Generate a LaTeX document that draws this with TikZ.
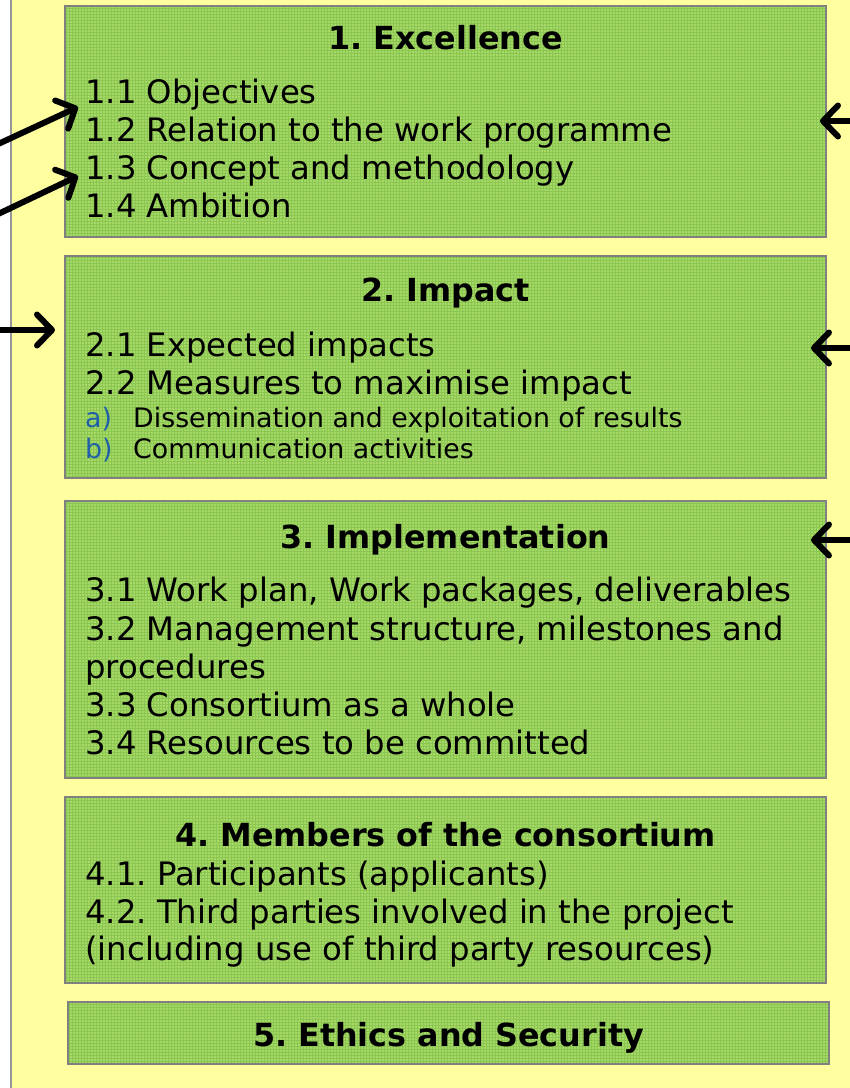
\documentclass[tikz,border=0pt]{standalone}
\usepackage{fontspec}
\setmainfont{DejaVu Sans}
\frenchspacing
\usetikzlibrary{arrows.meta,patterns}
\definecolor{pagebg}{RGB}{255,255,160}
\definecolor{boxgreen}{RGB}{166,217,102}
\definecolor{gridgreen}{RGB}{140,198,82}
\definecolor{boxedge}{RGB}{128,128,128}
\definecolor{itemblue}{RGB}{31,95,170}
\definecolor{railgray}{RGB}{150,150,150}

\begin{document}
\begin{tikzpicture}[x=1pt,y=-1pt,
  section/.style={rectangle, draw=boxedge, line width=2pt,
    preaction={fill=boxgreen}, pattern=grid, pattern color=gridgreen,
    inner sep=0pt, outer sep=0pt},
  heading/.style={font=\fontsize{31.8}{38}\selectfont\bfseries, inner sep=0pt, anchor=base},
  entry/.style={font=\fontsize{32.3}{38}\selectfont, inner sep=0pt, anchor=base west},
  subentry/.style={font=\fontsize{26.8}{31}\selectfont, inner sep=0pt, anchor=base west},
  marker/.style={font=\fontsize{26.8}{31}\selectfont, text=itemblue, inner sep=0pt, anchor=base west},
  pointer/.style={line width=6pt, line cap=round,
    -{Straight Barb[length=15pt,width=31pt,line join=round,line cap=round]}},
]
\useasboundingbox (0,0) rectangle (850,1088);
% page: white margin strip, yellow panel and its left rule
\fill[white] (0,0) rectangle (850,1088);
\fill[pagebg] (11,0) rectangle (850,1088);
\draw[railgray, line width=2.5pt] (11,0) -- (11,1088);

% section boxes
\node[section, minimum width=761pt, minimum height=231pt] (b1) at (445.5,121.5) {};
\node[section, minimum width=761pt, minimum height=222pt] (b2) at (445.5,367) {};
\node[section, minimum width=761pt, minimum height=277pt] (b3) at (445.5,639.5) {};
\node[section, minimum width=761pt, minimum height=186pt] (b4) at (445.5,890) {};
\node[section, minimum width=761pt, minimum height=62pt]  (b5) at (448.5,1033) {};

% 1. Excellence
\node[heading] (h1) at (445.5,49) {1. Excellence};
\node[entry] (e11) at (85,103) {1.1 Objectives};
\node[entry] (e12) at (85,141) {1.2 Relation to the work programme};
\node[entry] (e13) at (85,179) {1.3 Concept and methodology};
\node[entry] (e14) at (85,217) {1.4 Ambition};

% 2. Impact
\node[heading] (h2) at (445.5,301) {2. Impact};
\node[entry] (e21) at (85,356) {2.1 Expected impacts};
\node[entry] (e22) at (85,394) {2.2 Measures to maximise impact};
\node[marker] (ma) at (85,427) {a)};
\node[subentry] (e2a) at (133,427) {Dissemination and exploitation of results};
\node[marker] (mb) at (85,458) {b)};
\node[subentry] (e2b) at (133,458) {Communication activities};

% 3. Implementation
\node[heading] (h3) at (445.5,548) {3. Implementation};
\node[entry] (e31) at (85,601) {3.1 Work plan, Work packages, deliverables};
\node[entry] (e32) at (85,640) {3.2 Management structure, milestones and};
\node[entry] (e32b) at (85,678) {procedures};
\node[entry] (e33) at (85,716) {3.3 Consortium as a whole};
\node[entry] (e34) at (85,754) {3.4 Resources to be committed};

% 4. Members of the consortium
\node[heading] (h4) at (445.5,846) {4. Members of the consortium};
\node[entry] (e41) at (85,885) {4.1. Participants (applicants)};
\node[entry] (e42) at (85,923) {4.2. Third parties involved in the project};
\node[entry] (e42b) at (85,960) {(including use of third party resources)};

% 5. Ethics and Security
\node[heading] (h5) at (448.5,1046) {5. Ethics and Security};

% pointers coming in from the margins
\coordinate (l1s) at (-4,145);  \coordinate (l1t) at (78,107);
\coordinate (l2s) at (-4,215);  \coordinate (l2t) at (78,176);
\coordinate (l3s) at (-4,330);  \coordinate (l3t) at (55,330);
\coordinate (r1s) at (856,121); \coordinate (r1t) at (820,121);
\coordinate (r2s) at (856,348); \coordinate (r2t) at (811,348);
\coordinate (r3s) at (856,540); \coordinate (r3t) at (811,540);
\draw[pointer] (l1s) -- (l1t);
\draw[pointer] (l2s) -- (l2t);
\draw[pointer] (l3s) -- (l3t);
\draw[pointer] (r1s) -- (r1t);
\draw[pointer] (r2s) -- (r2t);
\draw[pointer] (r3s) -- (r3t);
\end{tikzpicture}
\end{document}
